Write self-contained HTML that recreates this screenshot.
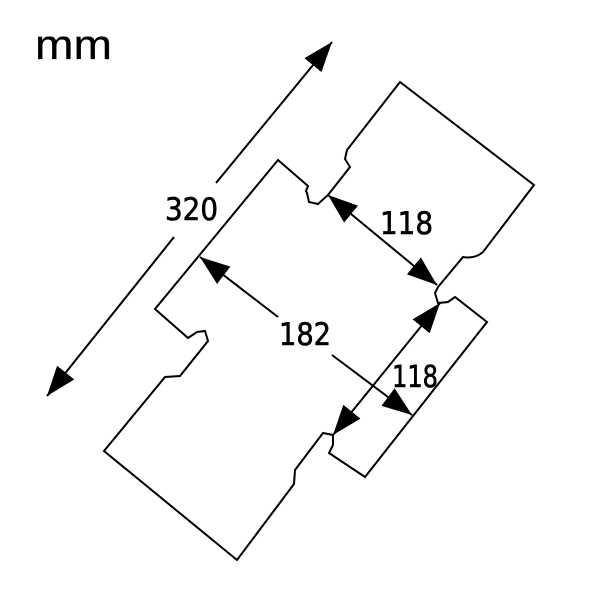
<!DOCTYPE html>
<html><head><style>body{margin:0;background:#fff}svg{display:block}</style></head><body>
<svg width="600" height="600" viewBox="0 0 600 600" xmlns="http://www.w3.org/2000/svg">
<defs>
<marker id="a" viewBox="0 0 30 22" refX="30" refY="11" markerWidth="30" markerHeight="22" markerUnits="userSpaceOnUse" orient="auto-start-reverse">
<path d="M0,0 L30,11 L0,22 z" fill="#000"/>
</marker>
</defs>
<path fill="none" stroke="#000" stroke-width="2" stroke-linejoin="miter" d="M278,160 L308,186 L306,191 L307,193 L309,202 L318,204 L328,195 L350,167 L345,159 L347,150 L400,82 L534,185 L483,252 Q475,259 463,257 L438,287 L435,293 L438,303 L448,302 L455,297 L487,322 L365,477 L329,453 L333,445 L333,435 L323,433 L295,470 L294,484 L237,560 L104,451 L165,377 L180,376 L208,341 L205,331 L197,332 L188,338 L155,309 Z"/>
<g stroke="#000" stroke-width="2" fill="none">
<line x1="216" y1="183" x2="332" y2="42" marker-end="url(#a)"/>
<line x1="174" y1="237" x2="47" y2="396" marker-end="url(#a)"/>
<line x1="278" y1="317" x2="200" y2="257" marker-end="url(#a)"/>
<line x1="332" y1="355" x2="412" y2="415" marker-end="url(#a)"/>
<line x1="328" y1="195" x2="437" y2="285" marker-start="url(#a)" marker-end="url(#a)"/>
<line x1="440" y1="303" x2="333" y2="435" marker-start="url(#a)" marker-end="url(#a)"/>
</g>
<g font-family="'DejaVu Sans Condensed','Liberation Sans',sans-serif" font-size="31" fill="#000" stroke="#000" stroke-width="0.6">
<text x="35" y="59" font-family="'Liberation Sans',sans-serif" font-size="42" stroke-width="0.3" textLength="77" lengthAdjust="spacingAndGlyphs">mm</text>
<text x="165" y="220" textLength="53" lengthAdjust="spacingAndGlyphs">320</text>
<text x="380" y="234" textLength="53" lengthAdjust="spacingAndGlyphs">118</text>
<text x="279" y="345" textLength="52" lengthAdjust="spacingAndGlyphs">182</text>
<text x="392" y="387" font-size="30" textLength="46" lengthAdjust="spacingAndGlyphs">118</text>
</g>
</svg>
</body></html>
